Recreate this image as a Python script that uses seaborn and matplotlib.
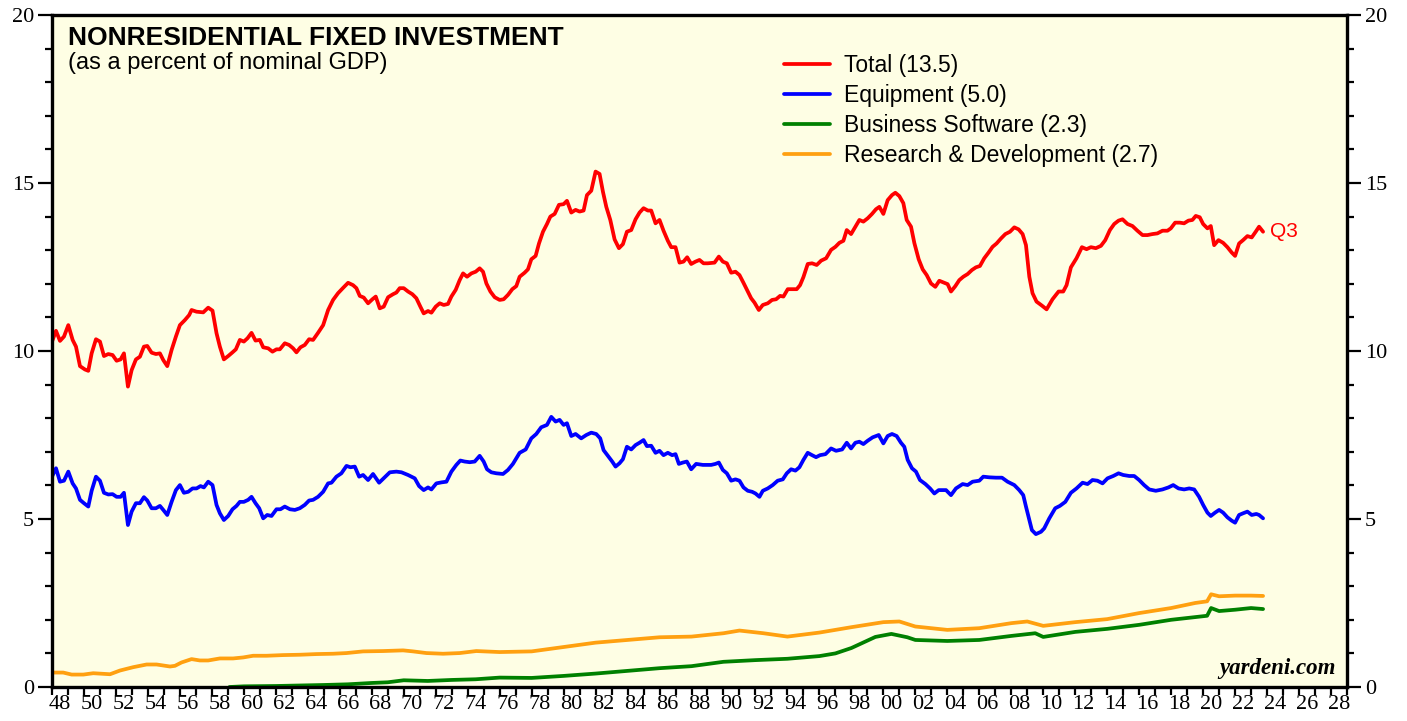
import numpy as np
import pandas as pd
import matplotlib
matplotlib.use("Agg")
import matplotlib.pyplot as plt
import seaborn as sns

# total nonresidential fixed investment, % of nominal GDP
total_yr = [1948.0, 1948.25, 1948.5, 1948.75, 1949.02, 1949.29, 1949.5, 1949.75, 1950.06, 1950.27,
            1950.48, 1950.75, 1951.0, 1951.25, 1951.52, 1951.79, 1952.04, 1952.29, 1952.5, 1952.75,
            1952.98, 1953.25, 1953.5, 1953.75, 1953.96, 1954.23, 1954.5, 1954.75, 1954.96, 1955.21,
            1955.48, 1955.75, 1956.0, 1956.31, 1956.58, 1956.73, 1957.04, 1957.46, 1957.77, 1958.04,
            1958.29, 1958.5, 1958.75, 1959.02, 1959.29, 1959.5, 1959.75, 1960.0, 1960.23, 1960.48,
            1960.73, 1961.0, 1961.21, 1961.52, 1961.79, 1962.04, 1962.25, 1962.56, 1962.83, 1963.08,
            1963.29, 1963.54, 1963.81, 1964.08, 1964.33, 1964.64, 1964.96, 1965.27, 1965.58, 1965.89,
            1966.21, 1966.52, 1966.83, 1967.04, 1967.25, 1967.5, 1967.77, 1968.04, 1968.25, 1968.5,
            1968.75, 1969.02, 1969.33, 1969.54, 1969.75, 1970.0, 1970.27, 1970.54, 1970.79, 1971.04,
            1971.25, 1971.52, 1971.73, 1972.0, 1972.25, 1972.5, 1972.77, 1972.98, 1973.25, 1973.5,
            1973.71, 1973.96, 1974.23, 1974.5, 1974.75, 1974.96, 1975.17, 1975.42, 1975.69, 1976.0,
            1976.25, 1976.52, 1976.79, 1977.04, 1977.25, 1977.56, 1977.77, 1977.98, 1978.25, 1978.46,
            1978.71, 1978.96, 1979.17, 1979.44, 1979.71, 1980.0, 1980.21, 1980.48, 1980.75, 1981.0,
            1981.25, 1981.46, 1981.73, 1982.0, 1982.25, 1982.46, 1982.67, 1982.92, 1983.19, 1983.46,
            1983.71, 1983.96, 1984.23, 1984.5, 1984.75, 1985.0, 1985.27, 1985.48, 1985.75, 1986.0,
            1986.25, 1986.52, 1986.73, 1987.0, 1987.25, 1987.5, 1987.73, 1987.98, 1988.25, 1988.5,
            1988.75, 1989.02, 1989.44, 1989.71, 1989.96, 1990.21, 1990.48, 1990.75, 1991.0, 1991.25,
            1991.52, 1991.73, 1991.94, 1992.21, 1992.46, 1992.77, 1993.04, 1993.29, 1993.54, 1993.75,
            1994.02, 1994.29, 1994.58, 1994.79, 1995.0, 1995.27, 1995.54, 1995.83, 1996.11, 1996.42,
            1996.73, 1997.0, 1997.25, 1997.5, 1997.71, 1997.98, 1998.25, 1998.5, 1998.75, 1999.02,
            1999.29, 1999.54, 1999.75, 2000.0, 2000.27, 2000.54, 2000.75, 2001.0, 2001.25, 2001.46,
            2001.73, 2001.94, 2002.21, 2002.46, 2002.71, 2002.98, 2003.25, 2003.5, 2003.81, 2004.02,
            2004.23, 2004.5, 2004.75, 2005.0, 2005.27, 2005.54, 2005.79, 2006.04, 2006.31, 2006.58,
            2006.83, 2007.08, 2007.36, 2007.63, 2007.92, 2008.19, 2008.46, 2008.71, 2008.92, 2009.13,
            2009.33, 2009.58, 2009.92, 2010.21, 2010.58, 2010.96, 2011.25, 2011.46, 2011.73, 2012.08,
            2012.42, 2012.71, 2012.98, 2013.29, 2013.61, 2013.88, 2014.17, 2014.44, 2014.71, 2014.96,
            2015.27, 2015.58, 2015.89, 2016.21, 2016.52, 2016.83, 2017.14, 2017.46, 2017.77, 2017.98,
            2018.25, 2018.54, 2018.81, 2019.08, 2019.33, 2019.54, 2019.79, 2020.0, 2020.27, 2020.48,
            2020.69, 2020.96, 2021.25, 2021.52, 2021.79, 2022.0, 2022.25, 2022.5, 2022.77, 2023.04,
            2023.29, 2023.5, 2023.75]
total_val = [10.28, 10.6, 10.3, 10.43, 10.77, 10.33, 10.13, 9.55, 9.45, 9.41,
             9.93, 10.35, 10.28, 9.85, 9.91, 9.88, 9.71, 9.75, 9.93, 8.94,
             9.43, 9.75, 9.83, 10.13, 10.15, 9.95, 9.91, 9.93, 9.73, 9.55,
             10.03, 10.43, 10.77, 10.92, 11.07, 11.22, 11.17, 11.15, 11.29, 11.2,
             10.53, 10.13, 9.75, 9.85, 9.96, 10.05, 10.33, 10.28, 10.38, 10.54,
             10.31, 10.33, 10.11, 10.08, 9.98, 10.05, 10.05, 10.23, 10.18, 10.08,
             9.96, 10.11, 10.18, 10.35, 10.33, 10.54, 10.77, 11.22, 11.52, 11.72,
             11.88, 12.03, 11.96, 11.87, 11.64, 11.59, 11.42, 11.54, 11.62, 11.27,
             11.32, 11.6, 11.69, 11.74, 11.87, 11.87, 11.77, 11.69, 11.57, 11.32,
             11.12, 11.19, 11.14, 11.32, 11.42, 11.37, 11.4, 11.62, 11.82, 12.11,
             12.31, 12.21, 12.31, 12.36, 12.46, 12.36, 12.01, 11.77, 11.6, 11.52,
             11.54, 11.67, 11.84, 11.93, 12.21, 12.33, 12.43, 12.73, 12.83, 13.2,
             13.55, 13.78, 14.0, 14.08, 14.35, 14.37, 14.47, 14.12, 14.2, 14.15,
             14.18, 14.64, 14.77, 15.34, 15.27, 14.74, 14.29, 13.9, 13.32, 13.06,
             13.18, 13.55, 13.6, 13.92, 14.12, 14.25, 14.18, 14.18, 13.8, 13.9,
             13.58, 13.28, 13.09, 13.09, 12.63, 12.66, 12.79, 12.59, 12.66, 12.71,
             12.61, 12.61, 12.63, 12.81, 12.66, 12.61, 12.33, 12.36, 12.26, 12.03,
             11.77, 11.57, 11.44, 11.22, 11.37, 11.42, 11.52, 11.54, 11.64, 11.62,
             11.84, 11.84, 11.84, 11.96, 12.2, 12.59, 12.61, 12.56, 12.69, 12.76,
             13.01, 13.1, 13.22, 13.28, 13.6, 13.48, 13.7, 13.9, 13.85, 13.95,
             14.08, 14.22, 14.29, 14.08, 14.49, 14.64, 14.71, 14.61, 14.4, 13.9,
             13.7, 13.21, 12.73, 12.43, 12.26, 12.01, 11.91, 12.09, 12.03, 11.99,
             11.77, 11.93, 12.11, 12.21, 12.29, 12.41, 12.49, 12.53, 12.76, 12.93,
             13.1, 13.2, 13.35, 13.48, 13.55, 13.68, 13.62, 13.48, 13.15, 12.21,
             11.72, 11.47, 11.35, 11.24, 11.54, 11.77, 11.77, 11.96, 12.49, 12.76,
             13.09, 13.03, 13.09, 13.06, 13.13, 13.3, 13.6, 13.78, 13.88, 13.92,
             13.78, 13.72, 13.58, 13.45, 13.45, 13.48, 13.5, 13.58, 13.58, 13.65,
             13.82, 13.82, 13.8, 13.88, 13.9, 14.02, 13.98, 13.78, 13.65, 13.72,
             13.15, 13.3, 13.22, 13.09, 12.93, 12.83, 13.2, 13.3, 13.42, 13.38,
             13.55, 13.7, 13.55]

# equipment
equip_yr = [1948.0, 1948.25, 1948.5, 1948.75, 1949.02, 1949.29, 1949.5, 1949.75, 1950.0, 1950.27,
            1950.48, 1950.75, 1951.0, 1951.25, 1951.52, 1951.79, 1952.04, 1952.29, 1952.5, 1952.75,
            1952.98, 1953.25, 1953.5, 1953.75, 1953.96, 1954.23, 1954.5, 1954.75, 1954.96, 1955.21,
            1955.48, 1955.75, 1956.0, 1956.25, 1956.52, 1956.79, 1957.04, 1957.29, 1957.5, 1957.77,
            1958.04, 1958.29, 1958.5, 1958.75, 1959.02, 1959.29, 1959.54, 1959.75, 1960.0, 1960.27,
            1960.48, 1960.73, 1960.96, 1961.21, 1961.46, 1961.73, 1962.04, 1962.29, 1962.56, 1962.88,
            1963.19, 1963.5, 1963.81, 1964.08, 1964.33, 1964.64, 1964.96, 1965.27, 1965.48, 1965.79,
            1966.1, 1966.42, 1966.67, 1966.94, 1967.21, 1967.46, 1967.77, 1968.08, 1968.46, 1968.81,
            1969.13, 1969.54, 1969.86, 1970.27, 1970.69, 1970.96, 1971.25, 1971.52, 1971.73, 1972.04,
            1972.36, 1972.67, 1972.98, 1973.29, 1973.54, 1973.81, 1974.13, 1974.44, 1974.75, 1975.0,
            1975.21, 1975.48, 1975.79, 1976.21, 1976.52, 1976.83, 1977.25, 1977.63, 1977.98, 1978.29,
            1978.6, 1978.96, 1979.23, 1979.5, 1979.75, 1980.0, 1980.21, 1980.48, 1980.75, 1981.1,
            1981.42, 1981.73, 1982.04, 1982.29, 1982.5, 1982.77, 1983.04, 1983.25, 1983.5, 1983.71,
            1983.96, 1984.23, 1984.5, 1984.75, 1985.0, 1985.21, 1985.48, 1985.75, 1986.0, 1986.25,
            1986.52, 1986.79, 1987.0, 1987.21, 1987.46, 1987.71, 1987.98, 1988.29, 1988.71, 1989.23,
            1989.5, 1989.71, 1989.96, 1990.21, 1990.48, 1990.75, 1991.0, 1991.25, 1991.52, 1991.79,
            1992.0, 1992.25, 1992.46, 1992.77, 1993.08, 1993.39, 1993.71, 1993.96, 1994.23, 1994.5,
            1994.75, 1995.0, 1995.27, 1995.54, 1995.79, 1996.04, 1996.38, 1996.73, 1997.04, 1997.42,
            1997.71, 1997.98, 1998.25, 1998.5, 1998.75, 1999.02, 1999.33, 1999.71, 2000.0, 2000.27,
            2000.54, 2000.83, 2001.1, 2001.31, 2001.52, 2001.79, 2002.04, 2002.29, 2002.63, 2002.92,
            2003.19, 2003.46, 2003.92, 2004.23, 2004.54, 2004.96, 2005.27, 2005.58, 2006.0, 2006.25,
            2006.63, 2007.04, 2007.42, 2007.77, 2008.19, 2008.5, 2008.75, 2008.92, 2009.13, 2009.29,
            2009.54, 2009.86, 2010.06, 2010.38, 2010.75, 2011.04, 2011.38, 2011.73, 2012.08, 2012.46,
            2012.77, 2013.08, 2013.39, 2013.71, 2014.02, 2014.38, 2014.71, 2015.0, 2015.38, 2015.69,
            2016.0, 2016.31, 2016.63, 2017.04, 2017.46, 2017.83, 2018.13, 2018.46, 2018.81, 2019.13,
            2019.44, 2019.75, 2020.0, 2020.27, 2020.48, 2020.75, 2021.0, 2021.25, 2021.52, 2021.79,
            2022.0, 2022.25, 2022.5, 2022.77, 2023.04, 2023.33, 2023.5, 2023.75]
equip_val = [6.26, 6.51, 6.11, 6.14, 6.41, 6.06, 5.91, 5.57, 5.47, 5.37,
             5.84, 6.26, 6.14, 5.78, 5.73, 5.74, 5.66, 5.66, 5.78, 4.82,
             5.22, 5.47, 5.47, 5.65, 5.55, 5.32, 5.32, 5.39, 5.27, 5.12,
             5.51, 5.86, 6.01, 5.78, 5.81, 5.91, 5.91, 5.98, 5.94, 6.11,
             6.01, 5.42, 5.17, 4.97, 5.09, 5.29, 5.39, 5.51, 5.51, 5.57,
             5.66, 5.47, 5.32, 5.02, 5.12, 5.09, 5.29, 5.29, 5.37, 5.29,
             5.27, 5.32, 5.42, 5.55, 5.57, 5.66, 5.81, 6.06, 6.08, 6.26,
             6.36, 6.58, 6.54, 6.56, 6.26, 6.31, 6.16, 6.34, 6.08, 6.24,
             6.39, 6.41, 6.39, 6.31, 6.21, 5.98, 5.86, 5.94, 5.88, 6.06,
             6.09, 6.11, 6.41, 6.61, 6.74, 6.71, 6.69, 6.71, 6.88, 6.71,
             6.48, 6.39, 6.36, 6.34, 6.46, 6.64, 6.97, 7.07, 7.4, 7.53,
             7.73, 7.8, 8.04, 7.9, 7.95, 7.8, 7.85, 7.47, 7.53, 7.4,
             7.5, 7.57, 7.53, 7.4, 7.05, 6.88, 6.71, 6.56, 6.66, 6.78,
             7.15, 7.07, 7.2, 7.27, 7.35, 7.17, 7.18, 6.97, 7.03, 6.9,
             6.97, 6.9, 6.93, 6.64, 6.68, 6.71, 6.48, 6.64, 6.61, 6.61,
             6.64, 6.68, 6.46, 6.36, 6.14, 6.18, 6.14, 5.94, 5.84, 5.81,
             5.76, 5.66, 5.84, 5.91, 6.01, 6.14, 6.18, 6.36, 6.48, 6.44,
             6.54, 6.76, 6.97, 6.9, 6.84, 6.9, 6.93, 7.1, 7.03, 7.07,
             7.27, 7.1, 7.27, 7.3, 7.23, 7.33, 7.43, 7.5, 7.25, 7.47,
             7.53, 7.47, 7.27, 7.15, 6.76, 6.51, 6.41, 6.16, 6.04, 5.91,
             5.76, 5.86, 5.86, 5.71, 5.91, 6.04, 6.01, 6.11, 6.14, 6.26,
             6.24, 6.23, 6.23, 6.11, 6.01, 5.86, 5.71, 5.37, 4.97, 4.67,
             4.55, 4.62, 4.72, 5.02, 5.32, 5.39, 5.51, 5.78, 5.91, 6.08,
             6.04, 6.16, 6.14, 6.06, 6.21, 6.28, 6.36, 6.31, 6.28, 6.28,
             6.16, 6.01, 5.88, 5.84, 5.88, 5.94, 6.01, 5.91, 5.88, 5.91,
             5.88, 5.66, 5.42, 5.19, 5.09, 5.19, 5.27, 5.19, 5.05, 4.95,
             4.89, 5.12, 5.17, 5.22, 5.12, 5.15, 5.12, 5.02]

# business software (series starts 1959)
soft_yr = [1959.1, 1960.0, 1962.0, 1964.0, 1965.0, 1966.5, 1968.0, 1969.0, 1970.0, 1971.5,
           1973.0, 1974.5, 1976.0, 1978.0, 1980.0, 1982.0, 1984.0, 1986.0, 1988.0, 1990.0,
           1992.0, 1994.0, 1996.0, 1997.0, 1998.0, 1999.5, 2000.5, 2001.5, 2002.0, 2004.0,
           2006.0, 2008.0, 2009.5, 2010.0, 2012.0, 2014.0, 2016.0, 2018.0, 2019.5, 2020.25,
           2020.5, 2021.0, 2022.0, 2023.0, 2023.75]
soft_val = [0.0, 0.02, 0.03, 0.05, 0.06, 0.08, 0.12, 0.14, 0.2, 0.18,
            0.21, 0.23, 0.28, 0.27, 0.33, 0.4, 0.48, 0.56, 0.62, 0.75,
            0.8, 0.84, 0.92, 1.0, 1.16, 1.49, 1.58, 1.48, 1.4, 1.37,
            1.4, 1.52, 1.6, 1.49, 1.64, 1.73, 1.85, 2.0, 2.08, 2.12,
            2.35, 2.26, 2.3, 2.35, 2.32]

# research & development
rd_yr = [1948.0, 1948.7, 1949.23, 1949.96, 1950.58, 1951.63, 1952.25, 1953.08, 1953.92, 1954.54,
         1955.38, 1955.69, 1956.1, 1956.73, 1957.25, 1957.77, 1958.5, 1959.33, 1959.96, 1960.58,
         1961.42, 1962.46, 1963.5, 1964.54, 1965.58, 1966.42, 1967.46, 1968.71, 1969.96, 1970.58,
         1971.42, 1972.46, 1973.5, 1974.54, 1976.0, 1978.0, 1980.0, 1982.0, 1984.0, 1986.0,
         1988.0, 1990.0, 1991.0, 1992.5, 1994.0, 1996.0, 1998.0, 2000.0, 2001.0, 2002.0,
         2004.0, 2006.0, 2008.0, 2009.0, 2010.0, 2012.0, 2014.0, 2016.0, 2018.0, 2019.5,
         2020.25, 2020.5, 2021.0, 2022.0, 2023.0, 2023.75]
rd_val = [0.43, 0.43, 0.37, 0.37, 0.41, 0.38, 0.49, 0.59, 0.67, 0.67,
          0.61, 0.63, 0.73, 0.83, 0.79, 0.79, 0.85, 0.85, 0.88, 0.93,
          0.93, 0.95, 0.96, 0.98, 0.99, 1.01, 1.06, 1.07, 1.09, 1.06,
          1.01, 0.99, 1.01, 1.07, 1.04, 1.06, 1.19, 1.32, 1.4, 1.48,
          1.5, 1.6, 1.68, 1.6, 1.5, 1.62, 1.78, 1.93, 1.95, 1.8,
          1.7, 1.75, 1.9, 1.95, 1.82, 1.93, 2.02, 2.2, 2.35, 2.5,
          2.55, 2.76, 2.7, 2.72, 2.72, 2.71]

labels = ["Total (13.5)", "Equipment (5.0)", "Business Software (2.3)", "Research & Development (2.7)"]
colors = ["#ff0000", "#0000ff", "#008000", "#ffa010"]

sns.set_style("ticks")
plt.rcParams['font.family'] = ['Liberation Sans', 'DejaVu Sans']
plt.rcParams['text.color'] = 'black'
plt.rcParams['xtick.color'] = 'black'
plt.rcParams['ytick.color'] = 'black'

fig = plt.figure(figsize=(14.07, 7.21), dpi=100)
ax = fig.add_axes([52 / 1407, 1 - 687 / 721, 1295 / 1407, 672 / 721])
ax.set_facecolor("#fefee4")

series = [(total_yr, total_val), (equip_yr, equip_val), (soft_yr, soft_val), (rd_yr, rd_val)]
for (xs, ys), lab, col in zip(series, labels, colors):
    d = pd.DataFrame({"year": xs, "value": ys})
    sns.lineplot(data=d, x="year", y="value", ax=ax, color=col, linewidth=2.7,
                 label=lab, solid_joinstyle="round", solid_capstyle="round")

ax.set_xlim(1948, 2029)
ax.set_ylim(0, 20)
ax.set_xlabel("")
ax.set_ylabel("")

# x axis: tick per year, two-digit labels centred between ticks on even years
ax.set_xticks(np.arange(1948, 2030, 1))
ax.set_xticklabels([])
ax.set_xticks(np.arange(1948, 2029, 2) + 0.5, minor=True)
ax.set_xticklabels([f"{y % 100:02d}" for y in range(1948, 2029, 2)], minor=True,
                   family=['Liberation Serif'], fontsize=16)
ax.tick_params(axis="x", which="major", direction="out", length=6, width=1.6)
ax.tick_params(axis="x", which="minor", length=0, pad=6)

# y axis on both sides
ax.set_yticks([0, 5, 10, 15, 20])
ax.set_yticks(np.arange(0, 21, 1), minor=True)
ax.tick_params(axis="y", which="both", left=True, right=True, labelleft=True, labelright=True,
               direction="out", width=1.6)
ax.tick_params(axis="y", which="major", length=10, pad=3)
ax.tick_params(axis="y", which="minor", length=5)
for t in ax.get_yticklabels():
    t.set_family(['Liberation Serif'])
    t.set_fontsize(16)

for s in ax.spines.values():
    s.set_visible(True)
    s.set_linewidth(2.4)
    s.set_color("black")

ax.text(0.012, 0.984, "NONRESIDENTIAL FIXED INVESTMENT", transform=ax.transAxes,
        fontsize=19, fontweight="bold", va="top", ha="left")
ax.text(0.012, 0.945, "(as a percent of nominal GDP)", transform=ax.transAxes,
        fontsize=17, va="top", ha="left")

leg = ax.legend(loc="upper left", bbox_to_anchor=(784 / 1407, 1 - 54 / 721),
                bbox_transform=fig.transFigure, frameon=False, fontsize=16.5,
                handlelength=2.0, handletextpad=0.62, labelspacing=0.3, borderpad=0,
                borderaxespad=0)
for ln in leg.get_lines():
    ln.set_linewidth(2.7)

ax.annotate("Q3", xy=(total_yr[-1], total_val[-1]), xytext=(5, 0), textcoords="offset points",
            color="#ff0000", fontsize=15, va="center", ha="left")

ax.text(0.991, 0.012, "yardeni.com", transform=ax.transAxes, ha="right", va="bottom",
        family=['Liberation Serif'], fontsize=16.5, fontweight="bold", style="italic")

fig.savefig("out.png", dpi=100, facecolor="white")
